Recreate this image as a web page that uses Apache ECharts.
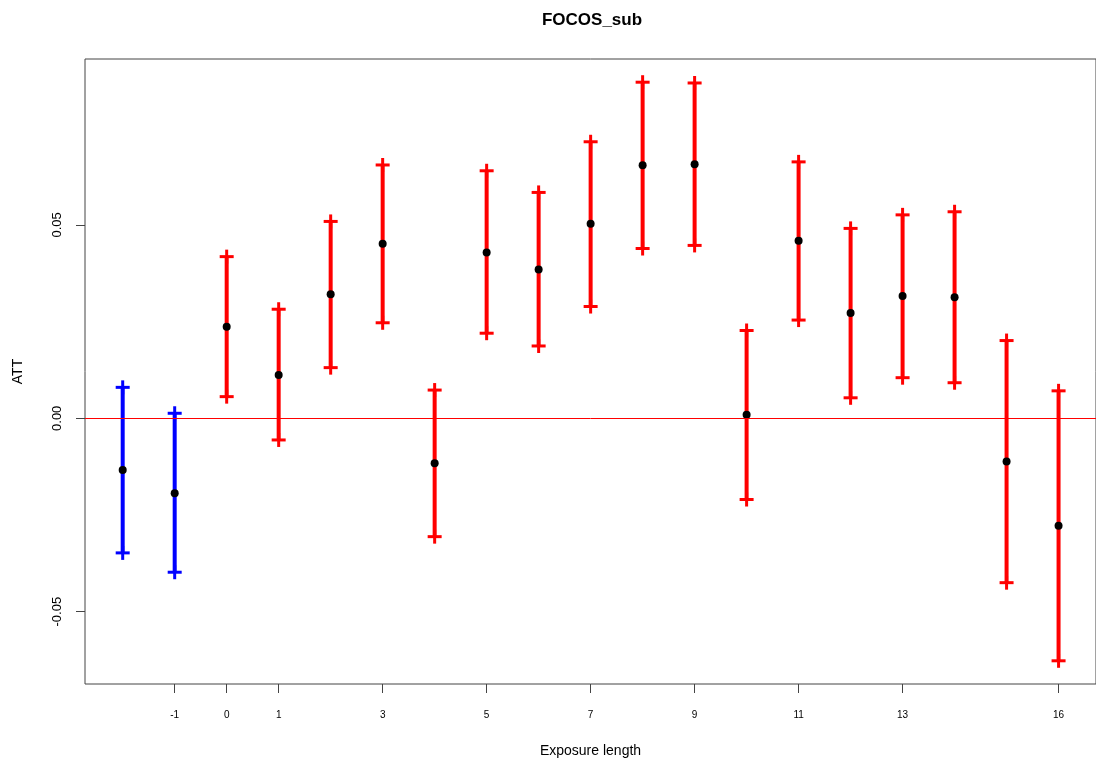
<!DOCTYPE html>
<html>
<head>
<meta charset="utf-8">
<script src="https://cdn.jsdelivr.net/npm/echarts@6/dist/echarts.min.js"></script>
<style>
html,body{margin:0;padding:0;background:#fff;}
#main{width:1096px;height:763px;}
</style>
</head>
<body>
<div id="main"></div>
<script>
// Data
const exposure = [-2,-1,0,1,2,3,4,5,6,7,8,9,10,11,12,13,14,15,16];
const att   = [-0.0134,-0.0194,0.0237,0.0112,0.0321,0.0451,-0.0116,0.0429,0.0385,0.0503,0.0654,0.0657,0.0009,0.0459,0.0272,0.0316,0.0313,-0.0112,-0.0278];
const lower = [-0.0348,-0.0398,0.0056,-0.0056,0.0131,0.0247,-0.0306,0.0220,0.0187,0.0289,0.0439,0.0447,-0.0210,0.0254,0.0053,0.0105,0.0092,-0.0425,-0.0627];
const upper = [0.0080,0.0013,0.0418,0.0282,0.0509,0.0655,0.0073,0.0640,0.0584,0.0715,0.0869,0.0867,0.0227,0.0663,0.0491,0.0526,0.0534,0.0201,0.0071];
const xTicks = [-1,0,1,3,5,7,9,11,13,16];
const yTicks = [-0.05,0,0.05];

const ciData = exposure.map((x,i)=>[x, lower[i], upper[i]]);
const ptData = exposure.map((x,i)=>[x, att[i]]);
const FONT = "'Liberation Sans', Arial, sans-serif";

const chart = echarts.init(document.getElementById('main'), null, {renderer:'canvas'});

function plus(cx, cy, color){
  const a = 7;
  return [
    {type:'line', shape:{x1:cx-a,y1:cy,x2:cx+a,y2:cy}, style:{stroke:color,lineWidth:3}},
    {type:'line', shape:{x1:cx,y1:cy-a,x2:cx,y2:cy+a}, style:{stroke:color,lineWidth:3}}
  ];
}

chart.setOption({
  animation:false,
  backgroundColor:'#fff',
  graphic:[{
    type:'text', x:592, y:20,
    style:{text:'FOCOS_sub', font:"bold 17px "+FONT, fill:'#000', align:'center', verticalAlign:'middle'}
  }],
  grid:{left:85, top:59, bottom:79, right:-3, show:true, borderColor:'#444', borderWidth:1, containLabel:false},
  xAxis:{
    type:'value', min:-2.725, max:16.72,
    name:'Exposure length', nameLocation:'middle', nameGap:60,
    nameTextStyle:{fontFamily:FONT, fontSize:14, color:'#000'},
    axisLine:{show:false, onZero:false},
    splitLine:{show:false},
    axisTick:{show:true, length:9, customValues:xTicks, lineStyle:{color:'#444'}},
    axisLabel:{customValues:xTicks, margin:26, fontFamily:FONT, fontSize:10, color:'#000', showMinLabel:true, showMaxLabel:true}
  },
  yAxis:{
    type:'value', min:-0.0687, max:0.0929,
    name:'ATT', nameLocation:'middle', nameGap:60, nameRotate:90,
    nameTextStyle:{fontFamily:FONT, fontSize:14, color:'#000'},
    axisLine:{show:false, onZero:false},
    splitLine:{show:false},
    axisTick:{show:true, length:9, customValues:yTicks, lineStyle:{color:'#444'}},
    axisLabel:{customValues:yTicks, rotate:90, margin:21, fontFamily:FONT, fontSize:13, color:'#000',
      formatter:v=>v.toFixed(2)}
  },
  series:[
    {
      type:'custom',
      data:ciData,
      encode:{x:0, y:[1,2]},
      clip:false,
      renderItem:function(params, api){
        const x = api.value(0), lo = api.value(1), hi = api.value(2);
        const pLo = api.coord([x, lo]), pHi = api.coord([x, hi]);
        const color = x < 0 ? '#0000FF' : '#FF0000';
        return {
          type:'group',
          children:[
            {type:'line', shape:{x1:pLo[0],y1:pLo[1],x2:pHi[0],y2:pHi[1]}, style:{stroke:color,lineWidth:4}}
          ].concat(plus(pHi[0],pHi[1],color), plus(pLo[0],pLo[1],color))
        };
      },
      markLine:{
        silent:true, symbol:'none', label:{show:false},
        lineStyle:{color:'#FF0000', width:1, type:'solid'},
        data:[{yAxis:0}]
      },
      z:2
    },
    {
      type:'scatter',
      data:ptData,
      symbol:'circle', symbolSize:8,
      itemStyle:{color:'#000', opacity:1},
      z:3
    }
  ]
});
</script>
</body>
</html>
